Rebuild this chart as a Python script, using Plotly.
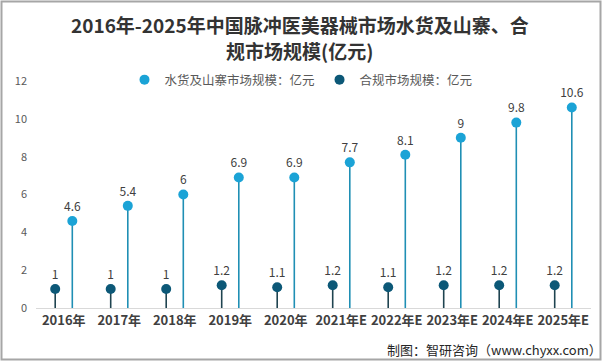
import plotly.graph_objects as go

years = ["2016年", "2017年", "2018年", "2019年", "2020年", "2021年E", "2022年E", "2023年E", "2024年E", "2025年E"]
grey_market = [4.6, 5.4, 6, 6.9, 6.9, 7.7, 8.1, 9, 9.8, 10.6]
legal_market = [1, 1, 1, 1.2, 1.1, 1.2, 1.1, 1.2, 1.2, 1.2]
name_grey = "水货及山寨市场规模：亿元"
name_legal = "合规市场规模：亿元"
title_lines = ["2016年-2025年中国脉冲医美器械市场水货及山寨、合", "规市场规模(亿元)"]

OFF = 0.154
idx = list(range(len(years)))
FONT = "Noto Sans CJK SC, Microsoft YaHei, sans-serif"

light_marker = "#1ba3d6"
light_stem = "#1f8fb4"
dark_marker = "#0c5877"
dark_stem = "#1f4450"

fig = go.Figure()
fig.add_trace(go.Scatter(
    x=[i + OFF for i in idx], y=grey_market, name=name_grey,
    mode="markers+text", text=[f"{v:g}" for v in grey_market], textposition="top center",
    textfont=dict(size=12, color="#404040", family=FONT),
    marker=dict(size=10, color=light_marker),
    error_y=dict(type="data", symmetric=False, array=[0] * len(idx), arrayminus=grey_market,
                 color=light_stem, thickness=1.6, width=0),
))
fig.add_trace(go.Scatter(
    x=[i - OFF for i in idx], y=legal_market, name=name_legal,
    mode="markers+text", text=[f"{v:g}" for v in legal_market], textposition="top center",
    textfont=dict(size=12, color="#404040", family=FONT),
    marker=dict(size=10, color=dark_marker),
    error_y=dict(type="data", symmetric=False, array=[0] * len(idx), arrayminus=legal_market,
                 color=dark_stem, thickness=1.6, width=0),
))

L, R, T, B = 36, 11, 81, 53
W, H = 602, 361
pw, ph = W - L - R, H - T - B

def px(x):
    return (x - L) / pw

def py(y):
    return (H - B - y) / ph

annotations = [
    dict(text=title_lines[0], xref="paper", yref="paper", x=px(300), xanchor="center",
         y=py(24), yanchor="middle", showarrow=False,
         font=dict(size=19, color="#333333", family=FONT, weight="bold")),
    dict(text=title_lines[1], xref="paper", yref="paper", x=px(299), xanchor="center",
         y=py(50), yanchor="middle", showarrow=False,
         font=dict(size=19, color="#333333", family=FONT, weight="bold")),
    dict(text="制图：智研咨询（www.chyxx.com）", xref="paper", yref="paper",
         x=px(604), xanchor="right", y=py(349), yanchor="middle", showarrow=False,
         font=dict(size=13, color="#262626", family=FONT)),
]

fig.update_layout(
    width=W, height=H,
    margin=dict(l=L, r=R, t=T, b=B),
    paper_bgcolor="white", plot_bgcolor="white",
    font=dict(family=FONT, color="#595959"),
    showlegend=True,
    legend=dict(orientation="h", x=px(301), xanchor="center", y=py(80), yanchor="middle",
                font=dict(size=12.5, color="#595959", family=FONT), itemwidth=30,
                bgcolor="rgba(0,0,0,0)"),
    xaxis=dict(
        range=[-0.5, len(years) - 0.5], tickvals=idx, ticktext=years, tickangle=0,
        showgrid=False, zeroline=False, showline=True, linecolor="#d9d9d9", linewidth=1,
        ticks="", tickfont=dict(size=13, color="#404040", family=FONT, weight="bold"),
        fixedrange=True,
    ),
    yaxis=dict(
        range=[0, 12], tickvals=[0, 2, 4, 6, 8, 10, 12], showgrid=False, zeroline=False,
        showline=False, ticks="", tickfont=dict(size=11, color="#595959", family=FONT),
        ticklabelstandoff=8, fixedrange=True,
    ),
    shapes=[dict(type="rect", xref="paper", yref="paper",
                 x0=px(1.5), x1=px(600.5), y0=py(359.5), y1=py(1.5),
                 line=dict(color="#a6a6a6", width=2), fillcolor="rgba(0,0,0,0)", layer="above")],
    annotations=annotations,
)

fig.write_html("out.html", config={"displayModeBar": False},
               post_script="document.body.style.margin='0';document.body.style.overflow='hidden';")
